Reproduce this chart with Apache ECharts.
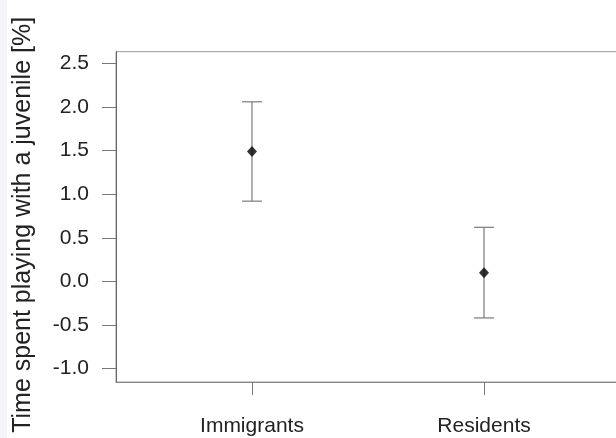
<!DOCTYPE html>
<html>
<head>
<meta charset="utf-8">
<script src="https://cdn.jsdelivr.net/npm/echarts@6/dist/echarts.min.js"></script>
<style>
html,body{margin:0;padding:0;background:#fff;}
#c{width:616px;height:438px;}
</style>
</head>
<body>
<div id="c"></div>
<script>
var categories = ['Immigrants', 'Residents'];
var means = [1.49, 0.10];
var upper = [2.06, 0.62];
var lower = [0.92, -0.42];
var yTicks = [-1.0, -0.5, 0.0, 0.5, 1.0, 1.5, 2.0, 2.5];
var xTicks = [1, 2];

var chart = echarts.init(document.getElementById('c'), null, {renderer: 'canvas'});
var font = 'Liberation Sans, Arial, Helvetica, sans-serif';

var errData = categories.map(function (c, i) { return [i + 1, lower[i], upper[i]]; });
var meanData = categories.map(function (c, i) { return [i + 1, means[i]]; });

chart.setOption({
  animation: false,
  backgroundColor: '#fff',
  graphic: [{
    type: 'rect', left: 0, top: 0, z: -1,
    shape: {width: 7, height: 438},
    style: {fill: '#f2f5fa'}
  }],
  grid: {
    left: 116, right: -4, top: 51.7, bottom: 56,
    containLabel: false, outerBoundsMode: 'none',
    show: true, borderColor: '#999', borderWidth: 1, backgroundColor: 'transparent'
  },
  xAxis: {
    type: 'value', min: 0.414, max: 2.586,
    splitLine: {show: false},
    axisLine: {show: true, onZero: false, lineStyle: {color: '#888', width: 1}},
    axisTick: {show: true, customValues: xTicks, length: 13, lineStyle: {color: '#777'}},
    axisLabel: {
      customValues: xTicks, margin: 34, color: '#222', fontSize: 21, fontFamily: font,
      formatter: function (v) { return categories[Math.round(v) - 1] || ''; }
    }
  },
  yAxis: {
    type: 'value', min: -1.155, max: 2.635,
    name: 'Time spent playing with a juvenile [%]',
    nameLocation: 'middle', nameGap: 80, nameRotate: 90,
    nameTextStyle: {color: '#222', fontSize: 25, fontFamily: font, padding: [0, 16, 0, 0]},
    splitLine: {show: false},
    axisLine: {show: true, onZero: false, lineStyle: {color: '#666', width: 1}},
    axisTick: {show: true, customValues: yTicks, length: 14, lineStyle: {color: '#777'}},
    axisLabel: {
      customValues: yTicks, margin: 27, color: '#222', fontSize: 21, fontFamily: font,
      formatter: function (v) { return v.toFixed(1); }
    }
  },
  series: [{
    type: 'custom',
    data: errData,
    encode: {x: 0, y: [1, 2]},
    renderItem: function (params, api) {
      var x = api.value(0);
      var lo = api.coord([x, api.value(1)]);
      var hi = api.coord([x, api.value(2)]);
      var hw = 10;
      var st = {stroke: '#7a7a7a', lineWidth: 1.2};
      return {
        type: 'group',
        children: [
          {type: 'line', shape: {x1: lo[0], y1: lo[1], x2: hi[0], y2: hi[1]}, style: st},
          {type: 'line', shape: {x1: hi[0] - hw, y1: hi[1], x2: hi[0] + hw, y2: hi[1]}, style: st},
          {type: 'line', shape: {x1: lo[0] - hw, y1: lo[1], x2: lo[0] + hw, y2: lo[1]}, style: st}
        ]
      };
    },
    z: 2
  }, {
    type: 'scatter',
    data: meanData,
    symbol: 'diamond',
    symbolSize: [10, 11],
    itemStyle: {color: '#000'},
    z: 3
  }]
});
</script>
</body>
</html>
